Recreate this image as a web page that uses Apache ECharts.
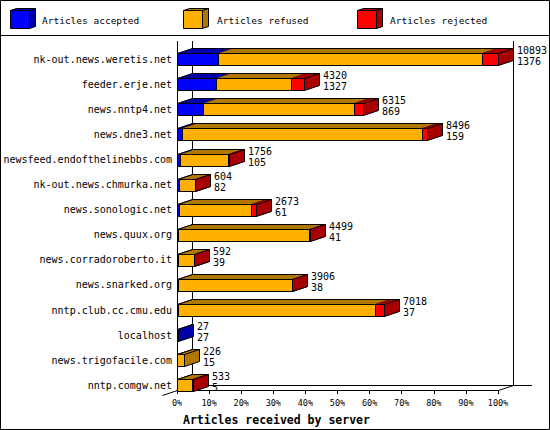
<!DOCTYPE html>
<html>
<head>
<meta charset="utf-8">
<script src="https://cdn.jsdelivr.net/npm/echarts@6/dist/echarts.min.js"></script>
<style>
html,body{margin:0;padding:0;background:#fff;}
#c{width:550px;height:430px;}
</style>
</head>
<body>
<div id="c"></div>
<script>
// ---- data ----
var hosts = ['nk-out.news.weretis.net','feeder.erje.net','news.nntp4.net','news.dne3.net',
  'newsfeed.endofthelinebbs.com','nk-out.news.chmurka.net','news.sonologic.net','news.quux.org',
  'news.corradoroberto.it','news.snarked.org','nntp.club.cc.cmu.edu','localhost',
  'news.trigofacile.com','nntp.comgw.net'];
var totals   = [10893, 4320, 6315, 8496, 1756, 604, 2673, 4499, 592, 3906, 7018, 27, 226, 533];
var accepted = [1376, 1327, 869, 159, 105, 82, 61, 41, 39, 38, 37, 27, 15, 5];
var refused  = [8987, 2540, 5146, 8147, 1631, 512, 2462, 4433, 543, 3853, 6676, 0, 211, 518];
var rejected = [530, 453, 300, 190, 20, 10, 150, 25, 10, 15, 305, 0, 0, 10];
var seriesNames = ['Articles accepted', 'Articles refused', 'Articles rejected'];
var tickPercents = [0,10,20,30,40,50,60,70,80,90,100];

// ---- style ----
var FRONT = ['#0000ff', '#ffb000', '#ff0000'];
var DARK  = ['#0000a8', '#b07800', '#a80000'];
var MONO = '"DejaVu Sans Mono", "Liberation Mono", monospace';
var DX = 15, DY = 5, BH = 12;

var maxTotal = Math.max.apply(null, totals);
var parts = [accepted, refused, rejected];

function pct(v) { return v / maxTotal * 100; }

function segData(k) {
  return hosts.map(function (h, i) {
    var s = 0;
    for (var j = 0; j < k; j++) s += parts[j][i];
    return [i, pct(s), pct(s + parts[k][i])];
  });
}

function cr(v) { return Math.round(v) + 0.5; }

function makeSegRender(k) {
  return function (params, api) {
    var i = api.value(0), s = api.value(1), e = api.value(2);
    if (!(e > s)) return { type: 'group', children: [] };
    var p0 = api.coord([s, i]), p1 = api.coord([e, i]);
    var x0 = cr(p0[0]), x1 = cr(p1[0]);
    var yT = cr(p0[1] - BH / 2), yB = yT + BH;
    return {
      type: 'group',
      children: [
        { type: 'polygon', shape: { points: [[x0, yT], [x1, yT], [x1 + DX, yT - DY], [x0 + DX, yT - DY]] },
          style: { fill: DARK[k], stroke: DARK[k], lineWidth: 0.5 } },
        { type: 'rect', shape: { x: x0, y: yT, width: Math.max(x1 - x0, 0.5), height: BH },
          style: { fill: FRONT[k], stroke: '#000', lineWidth: 1 } },
        { type: 'polygon', shape: { points: [[x1, yT], [x1 + DX, yT - DY], [x1 + DX, yB - DY], [x1, yB]] },
          style: { fill: DARK[k], stroke: '#000', lineWidth: 1 } }
      ]
    };
  };
}

var labelData = hosts.map(function (h, i) { return [i, pct(totals[i]), totals[i], accepted[i]]; });

function labelRender(params, api) {
  var i = api.value(0), e = api.value(1);
  var p0 = api.coord([0, i]), p1 = api.coord([e, i]);
  var x0 = cr(p0[0]), x1 = cr(p1[0]);
  var yT = cr(p0[1] - BH / 2);
  return {
    type: 'group',
    children: [
      { type: 'polyline', shape: { points: [[x0, yT], [x0 + DX, yT - DY], [Math.max(x1, x0 + 1) + DX, yT - DY]] },
        style: { fill: null, stroke: '#000', lineWidth: 1 } },
      { type: 'text', style: {
          text: api.value(2) + '\n' + api.value(3),
          x: Math.round(p1[0]) + DX + 4, y: p0[1] - 3,
          verticalAlign: 'middle', align: 'left',
          font: '10px ' + MONO, lineHeight: 11, fill: '#000' } }
    ]
  };
}

var series = [0, 1, 2].map(function (k) {
  return {
    type: 'custom', name: seriesNames[k], renderItem: makeSegRender(k),
    data: segData(k), encode: { x: [1, 2], y: 0 }, clip: false, silent: true
  };
});
series.push({
  type: 'custom', name: 'labels', renderItem: labelRender,
  data: labelData, encode: { x: 1, y: 0 }, clip: false, silent: true
});

// ---- layout constants (decoration) ----
var GL = 177, GR = 498, AXY = 390, TOPY = 41, BACKR = GR + DX, BACKY = AXY - DY;

function legendItem(i, fx, tx) {
  return {
    type: 'group', children: [
      { type: 'polygon', shape: { points: [[fx + 0.5, 10.5], [fx + 6.5, 8.5], [fx + 25.5, 8.5], [fx + 19.5, 10.5]] },
        style: { fill: DARK[i], stroke: '#000', lineWidth: 1 } },
      { type: 'polygon', shape: { points: [[fx + 19.5, 10.5], [fx + 25.5, 8.5], [fx + 25.5, 26.5], [fx + 19.5, 28.5]] },
        style: { fill: DARK[i], stroke: '#000', lineWidth: 1 } },
      { type: 'rect', shape: { x: fx + 0.5, y: 10.5, width: 19, height: 18 },
        style: { fill: FRONT[i], stroke: '#000', lineWidth: 1 } },
      { type: 'text', style: { text: seriesNames[i], x: tx, y: 20, verticalAlign: 'middle',
          font: '9.5px ' + MONO, fill: '#000' } }
    ]
  };
}

function ln(x1, y1, x2, y2) {
  return { type: 'line', shape: { x1: x1, y1: y1, x2: x2, y2: y2 }, style: { stroke: '#000', lineWidth: 1 }, z: 0 };
}

var chart = echarts.init(document.getElementById('c'), null, { renderer: 'svg' });
chart.setOption({
  animation: false,
  backgroundColor: '#fff',
  title: {
    text: 'Articles received by server', left: 178, top: 409,
    textStyle: { fontFamily: MONO, fontSize: 11.5, fontWeight: 'bold', color: '#000' }
  },
  grid: { left: GL, right: 550 - GR, top: 46.7, bottom: 430 - 397.8 },
  xAxis: {
    type: 'value', min: 0, max: 100, interval: 10, offset: -7.8,
    axisLine: { show: true, lineStyle: { color: '#000', width: 1 } },
    axisTick: { show: true, length: 4, lineStyle: { color: '#000' } },
    splitLine: { show: false },
    axisLabel: {
      margin: 8, fontFamily: MONO, fontSize: 8.5, color: '#000',
      formatter: function (v) { return v + '%'; }
    }
  },
  yAxis: {
    type: 'category', data: hosts, inverse: true,
    axisLine: { show: false }, axisTick: { show: false }, splitLine: { show: false },
    axisLabel: { margin: 5, fontFamily: MONO, fontSize: 10, color: '#000' }
  },
  graphic: [
    { type: 'rect', shape: { x: 0.5, y: 0.5, width: 549, height: 429 }, style: { fill: null, stroke: '#000', lineWidth: 1 }, z: 0 },
    ln(0, 35.5, 550, 35.5),
    ln(GL + 0.5, TOPY, GL + 0.5, AXY + 0.5),
    ln(GL + DX + 0.5, TOPY, GL + DX + 0.5, BACKY + 0.5),
    ln(BACKR + 0.5, TOPY, BACKR + 0.5, BACKY + 0.5),
    ln(GL + DX, BACKY + 0.5, 532, BACKY + 0.5),
    ln(GR + 0.5, AXY + 0.5, BACKR + 0.5, BACKY + 0.5),
    ln(GL - DX + 0.5, AXY + 5.5, GL + 0.5, AXY + 0.5),
    legendItem(0, 10, 42),
    legendItem(1, 183, 217),
    legendItem(2, 357, 390)
  ],
  series: series
});
</script>
</body>
</html>
